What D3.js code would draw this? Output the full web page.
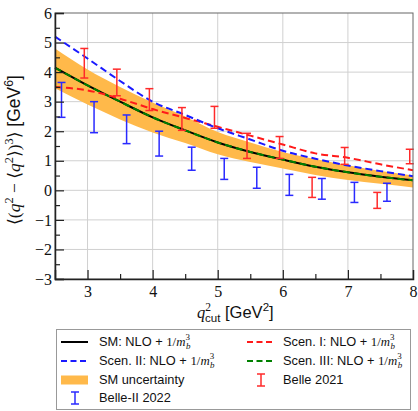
<!DOCTYPE html>
<html>
<head>
<meta charset="utf-8">
<script src="https://cdn.jsdelivr.net/npm/d3@7"></script>
<style>
  body { margin: 0; background: #fff; }
</style>
</head>
<body>
<div id="chart"></div>
<script>
// curve values
const qGrid = [2.5, 3, 3.5, 4, 4.5, 5, 5.5, 6, 6.5, 7, 7.5, 8]
const smCentral = [4.15, 3.55, 3.0, 2.47, 2.03, 1.62, 1.3, 1.04, 0.8, 0.61, 0.46, 0.34]
const smUpper = [4.8, 4.09, 3.5, 2.97, 2.5, 1.97, 1.62, 1.3, 1.06, 0.85, 0.65, 0.5]
const smLower = [3.45, 2.9, 2.4, 1.96, 1.6, 1.22, 0.96, 0.74, 0.52, 0.35, 0.22, 0.1]
const scen1 = [3.5, 3.38, 3.1, 2.75, 2.45, 2.15, 1.85, 1.55, 1.25, 1.1, 0.88, 0.68]
const scen2 = [5.2, 4.46, 3.7, 3.0, 2.55, 2.1, 1.72, 1.34, 1.07, 0.84, 0.65, 0.48]
const scen3 = [4.15, 3.55, 3.0, 2.47, 2.03, 1.62, 1.3, 1.04, 0.8, 0.61, 0.46, 0.34]

// measurements
const belle2Q = [2.6, 3.1, 3.6, 4.1, 4.6, 5.1, 5.6, 6.1, 6.6, 7.1, 7.6]
const belle2Hi = [3.65, 3.0, 2.55, 2.0, 1.46, 1.08, 0.78, 0.54, 0.4, 0.27, 0.24]
const belle2Lo = [2.47, 1.95, 1.58, 1.16, 0.68, 0.37, 0.07, -0.17, -0.3, -0.41, -0.37]
const belleQ = [2.95, 3.45, 3.95, 4.45, 4.95, 5.45, 5.95, 6.45, 6.95, 7.45, 7.95]
const belleHi = [4.8, 4.1, 3.44, 2.8, 2.84, 1.93, 1.82, 0.44, 1.45, -0.07, 1.39]
const belleLo = [3.8, 3.2, 2.7, 2.03, 2.1, 1.08, 1.08, -0.24, 0.88, -0.61, 0.9]

const xTicks = [3, 4, 5, 6, 7, 8]
const yTicks = [-3, -2, -1, 0, 1, 2, 3, 4, 5, 6]

const W = 418
const H = 411
const pLeft = 55
const pRight = 413
const pTop = 13
const pBottom = 279

const SERIF = "'Liberation Serif', 'DejaVu Serif', serif"
const SANS = "'Liberation Sans', 'DejaVu Sans', sans-serif"

const x = d3.scaleLinear().domain([2.5, 8]).range([pLeft, pRight])
const y = d3.scaleLinear().domain([-3, 6]).range([pBottom, pTop])

const svg = d3.select('#chart').append('svg')
  .attr('width', W)
  .attr('height', H)

// grid
svg.append('g').selectAll('line')
  .data(xTicks.slice(0, -1))
  .enter().append('line')
  .attr('x1', d => x(d)).attr('x2', d => x(d))
  .attr('y1', pTop).attr('y2', pBottom)
  .attr('stroke', '#d0d0d0').attr('stroke-width', 1)
svg.append('g').selectAll('line')
  .data(yTicks.slice(1, -1))
  .enter().append('line')
  .attr('x1', pLeft).attr('x2', pRight)
  .attr('y1', d => y(d)).attr('y2', d => y(d))
  .attr('stroke', '#d0d0d0').attr('stroke-width', 1)

const pts = arr => arr.map((v, i) => [qGrid[i], v])

// uncertainty band
const band = d3.area()
  .x((d, i) => x(qGrid[i]))
  .y0((d, i) => y(smLower[i]))
  .y1((d, i) => y(smUpper[i]))
  .curve(d3.curveMonotoneX)
svg.append('path')
  .datum(qGrid)
  .attr('d', band)
  .attr('fill', '#ffb94a')

const line = d3.line()
  .x(d => x(d[0]))
  .y(d => y(d[1]))
  .curve(d3.curveMonotoneX)

function drawCurve (vals, color, dash) {
  svg.append('path')
    .datum(pts(vals))
    .attr('d', line)
    .attr('fill', 'none')
    .attr('stroke', color)
    .attr('stroke-width', 2)
    .attr('stroke-dasharray', dash)
}

drawCurve(smCentral, '#000', null)
drawCurve(scen3, '#008000', '7,4')
drawCurve(scen1, '#ff1a1a', '7,4')
drawCurve(scen2, '#1a1aff', '7,4')

// error bars
function drawBars (qs, hi, lo, color) {
  const g = svg.append('g').attr('stroke', color).attr('stroke-width', 1.5)
  qs.forEach((q, i) => {
    g.append('line').attr('x1', x(q)).attr('x2', x(q)).attr('y1', y(hi[i])).attr('y2', y(lo[i]))
    g.append('line').attr('x1', x(q) - 4).attr('x2', x(q) + 4).attr('y1', y(hi[i])).attr('y2', y(hi[i]))
    g.append('line').attr('x1', x(q) - 4).attr('x2', x(q) + 4).attr('y1', y(lo[i])).attr('y2', y(lo[i]))
  })
}
drawBars(belleQ, belleHi, belleLo, '#ff2a2a')
drawBars(belle2Q, belle2Hi, belle2Lo, '#2a2aff')

// frame
svg.append('rect')
  .attr('x', pLeft).attr('y', pTop)
  .attr('width', pRight - pLeft).attr('height', pBottom - pTop)
  .attr('fill', 'none').attr('stroke', '#666').attr('stroke-width', 1)

// axes with inward ticks
const xAxis = d3.axisBottom(x).tickValues(xTicks).tickSize(-9).tickFormat(d3.format('d'))
const gx = svg.append('g').attr('transform', `translate(0,${pBottom})`).call(xAxis)
gx.selectAll('text').attr('font-family', SERIF).attr('font-size', 16).attr('fill', '#111').attr('y', 7).attr('dy', '0.71em')
const xMinor = d3.axisBottom(x).tickValues([3.5, 4.5, 5.5, 6.5, 7.5]).tickSize(-5).tickFormat('')
svg.append('g').attr('transform', `translate(0,${pBottom})`).call(xMinor).select('.domain').remove()

const yAxis = d3.axisLeft(y).tickValues(yTicks).tickSize(-9).tickFormat(d => d < 0 ? '\u2212' + Math.abs(d) : d)
const gy = svg.append('g').attr('transform', `translate(${pLeft},0)`).call(yAxis)
gy.selectAll('text').attr('font-family', SERIF).attr('font-size', 16).attr('fill', '#111').attr('x', -3)
const yMinor = d3.axisLeft(y).tickValues(d3.range(-2.5, 6, 1)).tickSize(-5).tickFormat('')
svg.append('g').attr('transform', `translate(${pLeft},0)`).call(yMinor).select('.domain').remove()

svg.selectAll('.tick line').attr('stroke', '#222').attr('stroke-width', 1.2)
svg.selectAll('.domain').attr('stroke', '#222').attr('stroke-width', 1.5)
gx.selectAll('.tick').filter(d => d === 8).select('line').remove()

// rich text helper: parts = [text, kind, pos, dx]
function rich (el, parts, size) {
  let level = 0
  parts.forEach(p => {
    const kind = p[1] || 'sans'
    const pos = p[2] || 0
    const fs = pos === 0 ? size : size * 0.7
    const target = pos * size * 0.42
    const t = el.append('tspan')
      .text(p[0])
      .attr('font-size', fs)
      .attr('font-family', kind === 'sans' ? SANS : SERIF)
      .attr('font-style', kind === 'it' ? 'italic' : 'normal')
      .attr('dy', target - level)
    if (p[3]) t.attr('dx', p[3])
    level = target
  })
}

// axis titles
const xt = svg.append('text').attr('x', 197).attr('y', 318).attr('fill', '#111')
rich(xt, [['q', 'it'], ['2', 'serif', -1], ['cut', 'sans', 0.6, -6], [' [GeV', 'sans'], ['2', 'sans', -1], [']', 'sans']], 16.5)

const yt = svg.append('text')
  .attr('transform', `translate(20,${(pTop + pBottom) / 2 + 4}) rotate(-90)`)
  .attr('text-anchor', 'middle')
  .attr('fill', '#111')
rich(yt, [['\u27E8(', 'serif'], ['q', 'it'], ['2', 'serif', -1], [' \u2212 \u27E8', 'serif'], ['q', 'it'], ['2', 'serif', -1], ['\u27E9)', 'serif'], ['3', 'serif', -1], ['\u27E9 [GeV', 'sans'], ['6', 'sans', -1], [']', 'sans']], 17.5)

// legend
svg.append('rect')
  .attr('x', 56.5).attr('y', 329.5)
  .attr('width', 354).attr('height', 80)
  .attr('fill', '#fff').attr('stroke', '#999').attr('stroke-width', 1)

const legendItems = [
  {col: 0, row: 0, type: 'line', color: '#000', dash: null, label: 'SM'},
  {col: 1, row: 0, type: 'line', color: '#ff1a1a', dash: '6,3.5', label: 'Scen. I'},
  {col: 0, row: 1, type: 'line', color: '#1a1aff', dash: '6,3.5', label: 'Scen. II'},
  {col: 1, row: 1, type: 'line', color: '#008000', dash: '6,3.5', label: 'Scen. III'},
  {col: 0, row: 2, type: 'band', color: '#ffb94a', label: 'SM uncertainty'},
  {col: 1, row: 2, type: 'bar', color: '#ff2a2a', label: 'Belle 2021'},
  {col: 0, row: 3, type: 'bar', color: '#2a2aff', label: 'Belle-II 2022'}
]
const rowY = [342, 361, 380, 398]
const colX = [61, 247]
const textX = [99, 283]

legendItems.forEach(it => {
  const cy = rowY[it.row]
  const x0 = colX[it.col]
  if (it.type === 'line') {
    svg.append('line')
      .attr('x1', x0).attr('x2', x0 + 27).attr('y1', cy).attr('y2', cy)
      .attr('stroke', it.color).attr('stroke-width', 2)
      .attr('stroke-dasharray', it.dash)
  } else if (it.type === 'band') {
    svg.append('rect').attr('x', x0).attr('y', cy - 4.5).attr('width', 27).attr('height', 9).attr('fill', it.color)
  } else {
    const cx = x0 + 14
    const g = svg.append('g').attr('stroke', it.color).attr('stroke-width', 1.5)
    g.append('line').attr('x1', cx).attr('x2', cx).attr('y1', cy - 6).attr('y2', cy + 6)
    g.append('line').attr('x1', cx - 4).attr('x2', cx + 4).attr('y1', cy - 6).attr('y2', cy - 6)
    g.append('line').attr('x1', cx - 4).attr('x2', cx + 4).attr('y1', cy + 6).attr('y2', cy + 6)
  }
  const t = svg.append('text').attr('x', textX[it.col]).attr('y', cy + 4).attr('fill', '#111')
  if (it.type === 'line') {
    rich(t, [[it.label + ': NLO + ', 'sans'], ['1/', 'serif'], ['m', 'it'], ['3', 'serif', -1.1], ['b', 'it', 0.6, -4]], 12.8)
  } else {
    rich(t, [[it.label, 'sans']], 12.8)
  }
})
</script>
</body>
</html>
